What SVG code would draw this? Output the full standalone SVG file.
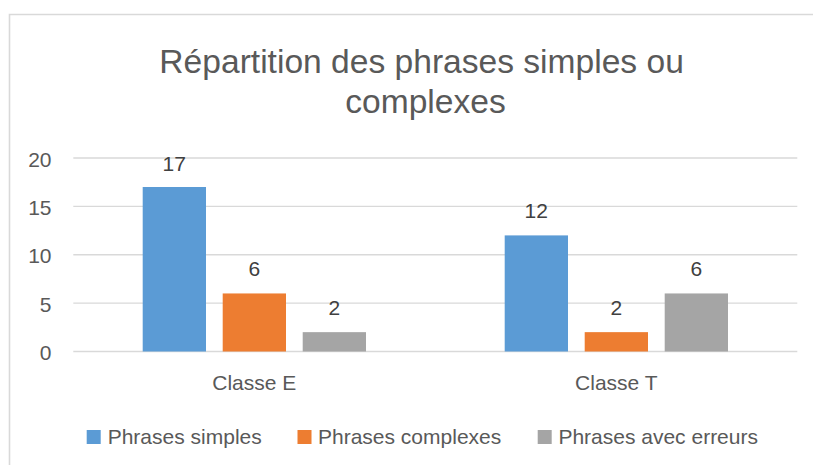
<svg xmlns="http://www.w3.org/2000/svg" width="813" height="465" viewBox="0 0 813 465">
<style>
text{font-family:"Liberation Sans",Arial,sans-serif;fill:#595959}
.t{font-size:33.6px;text-anchor:middle}
.ax{font-size:21px;text-anchor:end}
.cat{font-size:21px;text-anchor:middle}
.lbl{font-size:21px;text-anchor:middle;fill:#404040}
.lg{font-size:21px}
.grid{stroke:#d9d9d9;stroke-width:1.3;fill:none}
.b1{fill:#5B9BD5}.b2{fill:#ED7D31}.b3{fill:#A5A5A5}
</style>
<rect x="0" y="0" width="813" height="465" fill="#ffffff"/>
<path d="M9.5 466 V14.5 H814" fill="none" stroke="#d9d9d9" stroke-width="1.6"/>
<g id="title">
<text class="t" x="421.6" y="72.5">Répartition des phrases simples ou</text>
<text class="t" x="425.5" y="112.5">complexes</text>
</g>
<g id="gridlines">
<path class="grid" d="M73.3 158H797.3M73.3 206.4H797.3M73.3 254.75H797.3M73.3 303.1H797.3M73.3 351.5H797.3"/>
</g>
<g id="y-axis">
<text class="ax" x="51.5" y="166.5">20</text>
<text class="ax" x="51.5" y="214.9">15</text>
<text class="ax" x="51.5" y="263.2">10</text>
<text class="ax" x="51.5" y="311.6">5</text>
<text class="ax" x="51.5" y="360">0</text>
</g>
<g id="classe-e">
<rect class="b1" x="142.7" y="187" width="63.3" height="164.5"/>
<rect class="b2" x="222.7" y="293.45" width="63.3" height="58.05"/>
<rect class="b3" x="302.7" y="332.15" width="63.3" height="19.35"/>
<text class="lbl" x="174.3" y="170.5">17</text>
<text class="lbl" x="254.3" y="276.2">6</text>
<text class="lbl" x="334.3" y="315">2</text>
<text class="cat" x="254.3" y="390">Classe E</text>
</g>
<g id="classe-t">
<rect class="b1" x="504.7" y="235.4" width="63.3" height="116.1"/>
<rect class="b2" x="584.7" y="332.15" width="63.3" height="19.35"/>
<rect class="b3" x="664.7" y="293.45" width="63.3" height="58.05"/>
<text class="lbl" x="536.3" y="218.3">12</text>
<text class="lbl" x="616.3" y="315">2</text>
<text class="lbl" x="696.3" y="276.2">6</text>
<text class="cat" x="616.3" y="390">Classe T</text>
</g>
<g id="legend">
<rect class="b1" x="86.7" y="430" width="14" height="14"/>
<text class="lg" x="107.7" y="443.5">Phrases simples</text>
<rect class="b2" x="297.5" y="430" width="14" height="14"/>
<text class="lg" x="318" y="443.5">Phrases complexes</text>
<rect class="b3" x="537.7" y="430" width="14" height="14"/>
<text class="lg" x="558.4" y="443.5">Phrases avec erreurs</text>
</g>
</svg>
